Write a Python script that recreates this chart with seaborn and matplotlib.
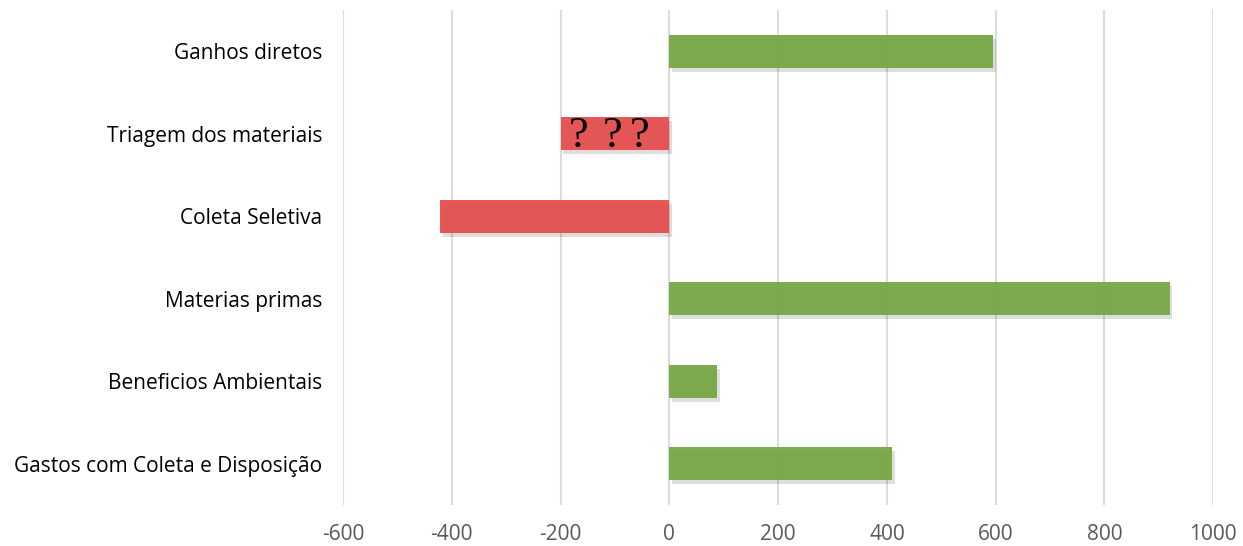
import pandas as pd
import seaborn as sns
import matplotlib.pyplot as plt
import matplotlib.patheffects as pe

# Values
categories = [
    "Ganhos diretos",
    "Triagem dos materiais",
    "Coleta Seletiva",
    "Materias primas",
    "Beneficios Ambientais",
    "Gastos com Coleta e Disposição",
]
values = [595, -200, -422, 920, 88, 410]
x_ticks = [-600, -400, -200, 0, 200, 400, 600, 800, 1000]

df = pd.DataFrame({"categoria": categories, "valor": values})
df["sinal"] = ["neg" if v < 0 else "pos" for v in df["valor"]]

sns.set_theme(style="white")
plt.rcParams["font.family"] = ["Open Sans", "DejaVu Sans"]

fig = plt.figure(figsize=(12.43, 5.46), dpi=100)
ax = fig.add_axes([0.276, 0.075, 0.7, 0.907])

ax.set_axisbelow(True)
ax.grid(axis="x", color="#dcdcdc", linewidth=1.5)
ax.grid(axis="y", visible=False)

sns.barplot(
    data=df, x="valor", y="categoria", hue="sinal",
    palette={"pos": "#75a543", "neg": "#e54b4b"},
    width=0.4, alpha=0.93, saturation=1, linewidth=0,
    dodge=False, legend=False, ax=ax,
)

# Soft drop shadow like the original
for b in ax.patches:
    b.set_path_effects([pe.SimplePatchShadow(offset=(2, -3), alpha=0.15), pe.Normal()])

# Question marks over the "Triagem" bar
for xq in [-167, -105, -54]:
    ax.text(xq, 1.03, "?", ha="center", va="center", fontsize=32,
            family="Liberation Serif", color="black")

ax.set_xlim(-600, 1000)
ax.set_ylim(5.5, -0.5)
ax.set_xticks(x_ticks)
ax.set_xticklabels([str(t) for t in x_ticks], color="#595959", fontsize=15)
ax.tick_params(axis="x", pad=14, length=0)
ax.tick_params(axis="y", labelsize=15, labelcolor="black", pad=15, length=0)
ax.set_xlabel("")
ax.set_ylabel("")
sns.despine(ax=ax, left=True, bottom=True)

fig.savefig("out.png", dpi=100)
